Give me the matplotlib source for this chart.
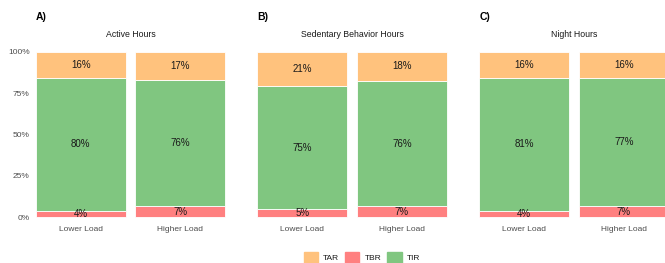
import matplotlib.pyplot as plt
from matplotlib.patches import Patch
import numpy as np

plt.rcParams['font.family'] = ['Liberation Sans', 'DejaVu Sans']

panels = ["Active Hours", "Sedentary Behavior Hours", "Night Hours"]
tags = ["A)", "B)", "C)"]
groups = ["Lower Load", "Higher Load"]
tar = np.array([[16, 17], [21, 18], [16, 16]])
tir = np.array([[80, 76], [75, 76], [81, 77]])
tbr = np.array([[4, 7], [5, 7], [4, 7]])

c_tar = '#FFC27D'
c_tbr = '#FF8080'
c_tir = '#80C680'

W, H = 665, 263
fig = plt.figure(figsize=(W / 100, H / 100), dpi=100)

centers = [80.7, 302.3, 524.3]   # pixel x of first bar
unit = 99.6
y0, y1 = 217.3, 51.7

for i in range(3):
    left = centers[i] - 0.47 * unit
    ax = fig.add_axes([left / W, 1 - y0 / H, 1.94 * unit / W, (y0 - y1) / H])
    tot = tar[i] + tir[i] + tbr[i]
    b = tbr[i] / tot
    m = tir[i] / tot
    t = tar[i] / tot
    x = np.arange(2)
    kw = dict(width=0.9, edgecolor='white', linewidth=0.6, clip_on=False)
    ax.bar(x, b, color=c_tbr, **kw)
    ax.bar(x, m, bottom=b, color=c_tir, **kw)
    ax.bar(x, t, bottom=b + m, color=c_tar, **kw)
    for j in range(2):
        ax.text(j, b[j] / 2, f"{tbr[i][j]}%", ha='center', va='center', fontsize=7, color='#1a1a1a')
        ax.text(j, b[j] + m[j] / 2, f"{tir[i][j]}%", ha='center', va='center', fontsize=7, color='#1a1a1a')
        ax.text(j, b[j] + m[j] + t[j] / 2, f"{tar[i][j]}%", ha='center', va='center', fontsize=7, color='#1a1a1a')
    ax.set_xlim(-0.47, 1.47)
    ax.set_ylim(0, 1)
    ax.set_xticks(x)
    ax.set_xticklabels(groups)
    ax.set_yticks([0, 0.25, 0.5, 0.75, 1])
    ax.set_yticklabels(['0%', '25%', '50%', '75%', '100%'] if i == 0 else [])
    ax.tick_params(length=0, labelsize=6, colors='#4d4d4d', pad=3)
    ax.tick_params(axis='x', pad=6)
    for s in ax.spines.values():
        s.set_visible(False)
    fig.text((centers[i] + 0.5 * unit) / W, 1 - 34.3 / H, panels[i], ha='center', va='center',
             fontsize=6.3, color='#1a1a1a')
    fig.text((centers[i] - 45) / W, 1 - 17.3 / H, tags[i], ha='left', va='center',
             fontsize=7.5, fontweight='bold', color='black')

handles = [Patch(color=c_tar), Patch(color=c_tbr), Patch(color=c_tir)]
fig.legend(handles, ['TAR', 'TBR', 'TIR'], loc='center', bbox_to_anchor=(362 / W, 1 - 257.5 / H),
           ncol=3, frameon=False, fontsize=6, handlelength=1.7, handleheight=1.7,
           columnspacing=0.7, handletextpad=0.65, labelcolor='#1a1a1a')

fig.savefig('out.png', dpi=100)
